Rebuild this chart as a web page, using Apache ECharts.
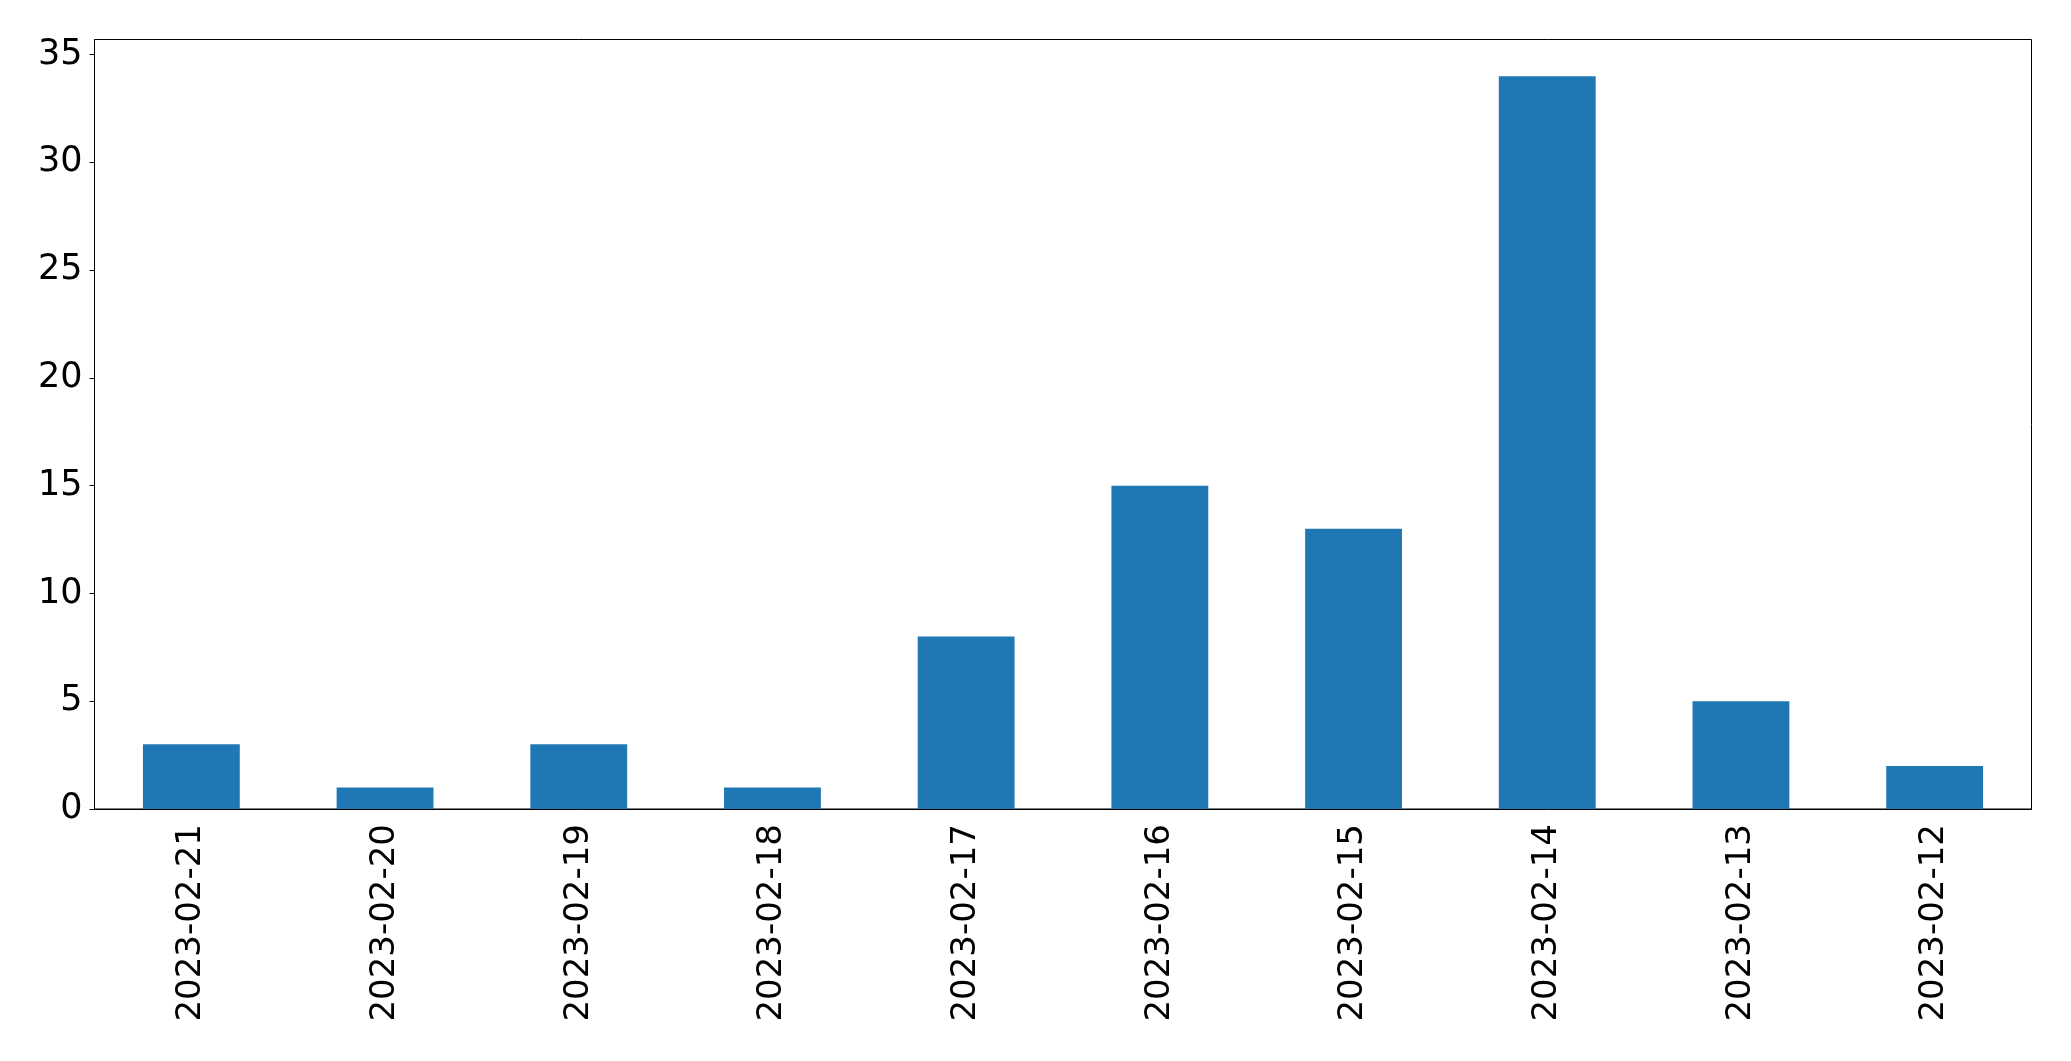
<!DOCTYPE html>
<html><head><meta charset="utf-8">
<script src="https://cdn.jsdelivr.net/npm/echarts@6/dist/echarts.min.js"></script>
<style>html,body{margin:0;padding:0;background:#fff}#c{width:2071px;height:1061px}</style>
</head><body><div id="c"></div>
<script>
const categories = ['2023-02-21','2023-02-20','2023-02-19','2023-02-18','2023-02-17','2023-02-16','2023-02-15','2023-02-14','2023-02-13','2023-02-12'];
const counts = [3,1,3,1,8,15,13,34,5,2];
const yTicks = [0,5,10,15,20,25,30,35];
const yMax = 35.7;

const chart = echarts.init(document.getElementById('c'), null, {renderer:'canvas'});
const font = 'DejaVu Sans';
chart.setOption({
  animation:false,
  grid:{left:94.5,right:39.5,top:39.5,bottom:252,show:true,borderColor:'#000',borderWidth:1,backgroundColor:'transparent'},
  xAxis:{type:'category',data:categories,
    axisLine:{lineStyle:{color:'#000',width:1}},
    axisTick:{alignWithLabel:true,length:5,lineStyle:{color:'#000'}},
    axisLabel:{rotate:90,color:'#000',fontFamily:font,fontSize:34,margin:15,interval:0}},
  yAxis:{type:'value',min:0,max:yMax,
    splitLine:{show:false},
    axisLine:{show:true,lineStyle:{color:'#000',width:1}},
    axisTick:{show:true,length:5,lineStyle:{color:'#000'},customValues:yTicks},
    axisLabel:{color:'#000',fontFamily:font,fontSize:35,margin:12,customValues:yTicks}},
  series:[{type:'bar',data:counts,barWidth:'50%',itemStyle:{color:'#1f77b4'}}]
});
</script></body></html>
